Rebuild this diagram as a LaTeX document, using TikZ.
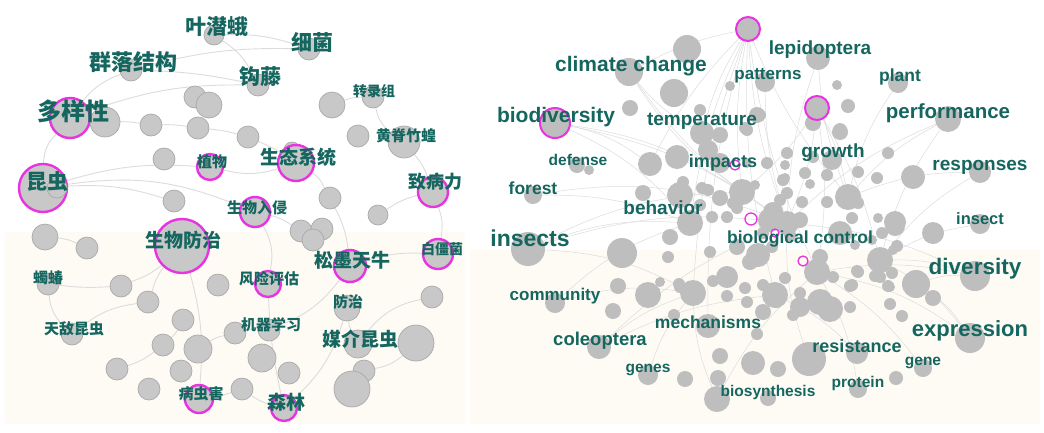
\documentclass[tikz,border=0pt]{standalone}
\usepackage{fontspec}
\setmainfont{Liberation Sans}
\newfontfamily\cjk{Noto Sans CJK SC}
\usetikzlibrary{backgrounds}
\definecolor{ng}{HTML}{C8C8C8}
\definecolor{nb}{HTML}{A9A9A9}
\definecolor{rg}{HTML}{BEBEBE}
\definecolor{mag}{HTML}{E833E0}
\definecolor{tl}{HTML}{14665F}
\definecolor{eg}{HTML}{DCDCDC}
\definecolor{cr}{HTML}{FEFBF5}
\tikzset{
 gn/.style={circle,fill=ng,draw=nb,line width=0.7pt,inner sep=0pt},
 mg/.style={circle,fill=ng,draw=mag,line width=2.4pt,inner sep=0pt},
 rn/.style={circle,fill=rg,inner sep=0pt},
 rm/.style={circle,fill=rg,draw=mag,line width=2pt,inner sep=0pt},
 rr/.style={circle,draw=mag,line width=1.3pt,inner sep=0pt},
 cl/.style={text=tl,inner sep=0pt,font=\cjk\bfseries\fontsize{#1}{#1}\selectfont},
 el/.style={text=tl,inner sep=0pt,font=\bfseries\fontsize{#1}{#1}\selectfont},
 ed/.style={draw=eg,line width=0.9pt},
 er/.style={draw=eg,line width=0.5pt},
}
\begin{document}
\begin{tikzpicture}[x=1pt,y=-1pt]
\useasboundingbox (0,0) rectangle (1044,432);
% ---------------- LEFT PANEL ----------------
\foreach \n/\x/\y/\r in {d1/195/97/11,d2/209/105/13,d4/151/125/11,d5/198/128/11,d6/248/137/11,
 d7/332/105/13,d8/358/136/11,d9/164/159/11,d10/292/150/8,d12/174/201/11,d13/330/198/11,d14/378/215/10,
 d15/45/237/13,d16/87/248/11,d17/301/231/11,d18/322/229/11,d19/313/240/11,d20/121/286/11,d21/148/302/11,
 d22/218/285/11,d23/432/297/11,d24/183/320/11,d25/235/333/11,d26/163/345/11,d27/198/349/14,d28/262/358/14,
 d29/416/343/18,d30/117/369/11,d31/181/371/11,d32/289/373/11,d33/364/371/11,d34/352/389/18,d35/149/389/11,d36/242/389/11}
 \node[gn,minimum size=2*\r] (\n) at (\x,\y) {};
% keyword circles (left)
\node[gn,minimum size=20] (yqe) at (214,35) {};
\node[gn,minimum size=22] (xj) at (309,49) {};
\node[gn,minimum size=22] (qljg) at (131,70) {};
\node[gn,minimum size=22] (gt) at (258,85) {};
\node[mg,minimum size=40] (dyx) at (70,118) {};
\node[gn,minimum size=30] (d3) at (105,122) {};
\node[gn,minimum size=22] (zlz) at (373,97) {};
\node[gn,minimum size=32] (hjzh) at (404,142) {};
\node[mg,minimum size=36] (stxt) at (296,163) {};
\node[mg,minimum size=26] (zw) at (210,167) {};
\node[mg,minimum size=48] (kc) at (43,188) {};
\node[gn,minimum size=20] (d11) at (57,188) {};
\node[mg,minimum size=30] (zbl) at (433,192) {};
\node[mg,minimum size=30] (swrq) at (255,212) {};
\node[mg,minimum size=54] (swfz) at (182,246) {};
\node[mg,minimum size=32] (smtn) at (350,266) {};
\node[mg,minimum size=30] (bjj) at (438,254) {};
\node[gn,minimum size=22] (zc) at (48,284) {};
\node[mg,minimum size=26] (fxpg) at (268,284) {};
\node[gn,minimum size=26] (fz) at (347,308) {};
\node[gn,minimum size=22] (dd) at (72,334) {};
\node[gn,minimum size=22] (jq) at (269,330) {};
\node[gn,minimum size=28] (mj) at (358,344) {};
\node[mg,minimum size=28] (bch) at (199,399) {};
\node[mg,minimum size=26] (sl) at (284,408) {};
% labels (left)
\node[cl=21] (yqeT) at (217,27) {叶潜蛾};
\node[cl=21] (xjT) at (312,42) {细菌};
\node[cl=22] (qljgT) at (133,62) {群落结构};
\node[cl=21] (gtT) at (260,77) {钩藤};
\node[cl=24] (dyxT) at (73,111) {多样性};
\node[cl=14] (zlzT) at (374,91) {转录组};
\node[cl=15] (hjzhT) at (406,136) {黄脊竹蝗};
\node[cl=19] (stxtT) at (298,157) {生态系统};
\node[cl=15] (zwT) at (212,162) {植物};
\node[cl=21] (kcT) at (47,182) {昆虫};
\node[cl=18] (zblT) at (435,182) {致病力};
\node[cl=15] (swrqT) at (257,208) {生物入侵};
\node[cl=19] (swfzT) at (183,240) {生物防治};
\node[cl=19] (smtnT) at (352,260) {松墨天牛};
\node[cl=14] (bjjT) at (442,249) {白僵菌};
\node[cl=15] (zcT) at (48,278) {蠋蝽};
\node[cl=15] (fxpgT) at (269,279) {风险评估};
\node[cl=15] (fzT) at (348,302) {防治};
\node[cl=15] (ddT) at (74,329) {天敌昆虫};
\node[cl=15] (jqT) at (271,325) {机器学习};
\node[cl=19] (mjT) at (360,339) {媒介昆虫};
\node[cl=15] (bchT) at (201,394) {病虫害};
\node[cl=19] (slT) at (286,402) {森林};
% ---------------- RIGHT PANEL ----------------
\foreach \x/\y/\r [count=\i] in {687/49/14,674/93/14,630/108/8,577/165/8,589/170/5,677/157/12,720/135/8,708/150/10,720/163/10,745/128/6,
 683/182/6,643/193/8,680/195/13,702/188/6,720/198/8,755/185/5,712/217/6,727/217/6,737/208/6,670/237/8,
 668/257/6,710/252/6,737/247/8,758/255/12,750/262/8,770/220/12,780/200/6,773/212/10,802/202/6,800/220/8,
 827/202/6,858/203/6,852/218/6,878/218/5,895/222/11,913/177/12,888/153/6,858/172/6,877/178/6,827/175/6,
 805/173/6,810/184/5,787/153/6,785/165/5,785/178/5,767/163/6,813/123/8,840/132/8,747/163/5,727/277/11,
 713/281/6,680/287/6,648/295/13,660/282/5,745/288/6,763/285/6,785/278/6,800/293/6,820/257/8,833/277/6,
 852/285/6,858/272/6,880/277/6,890/287/5,893/250/5,872/240/5,855/245/5,840/233/12,820/302/13,800/307/10,
 850/307/6,830/309/13,777/302/6,747/302/6,763/312/8,793/315/6,772/247/6,790/235/6,763/233/6,700/110/6,
 757/115/8,747/130/6,708/190/6,733/203/6,700/205/6,837/85/5,848/106/7,840/130/7,812/122/6,813/157/6,
 832/160/10,760/115/6,783/180/6,787/193/6,730/86/5,618/286/8,679/284/6,613/311/8,674/315/6,720/356/8,
 718/378/8,685/379/8,727/296/6,757/334/6,753/363/12,778/369/8,768/398/8,896/378/7,890/304/6,902/316/6,
 933/298/8,888/286/6,892/273/6,875/276/6,857/271/6,897/246/6,895/226/10,882/233/6,850/286/6,933/233/11}
 \node[rn,minimum size=2*\r] (r\i) at (\x,\y) {};
% hubs
\node[rn,minimum size=24] (hA) at (787,223) {};
\node[rn,minimum size=26] (hB) at (742,192) {};
\node[rn,minimum size=26] (hC) at (817,272) {};
\node[rn,minimum size=26] (hD) at (690,223) {};
\node[rn,minimum size=26] (hE) at (693,293) {};
\node[rn,minimum size=26] (hF) at (848,197) {};
\node[rn,minimum size=26] (hG) at (880,260) {};
\node[rn,minimum size=26] (hH) at (775,295) {};
\node[rn,minimum size=24] (hI) at (702,133) {};
\node[rn,minimum size=28] (hJ) at (916,284) {};
\node[rn,minimum size=34] (hK) at (809,359) {};
\node[rn,minimum size=30] (hL) at (622,253) {};
\node[rn,minimum size=24] (hM) at (650,164) {};
% keyword circles (right)
\node[rm,minimum size=24] (rtop) at (748,29) {};
\node[rn,minimum size=28] (rcc) at (629,72) {};
\node[rm,minimum size=30] (rbio) at (555,123) {};
\node[rn,minimum size=18] (rfor) at (533,195) {};
\node[rn,minimum size=20] (rpat) at (765,82) {};
\node[rn,minimum size=24] (rlep) at (818,58) {};
\node[rn,minimum size=20] (rpla) at (898,83) {};
\node[rm,minimum size=24] (rmg) at (817,108) {};
\node[rn,minimum size=26] (rper) at (948,119) {};
\node[rn,minimum size=22] (rres) at (980,172) {};
\node[rn,minimum size=20] (rins) at (980,224) {};
\node[rn,minimum size=34] (rinsects) at (528,249) {};
\node[rn,minimum size=30] (rdiv) at (975,276) {};
\node[rn,minimum size=20] (rcom) at (555,303) {};
\node[rn,minimum size=24] (rmec) at (708,326) {};
\node[rn,minimum size=24] (rcol) at (599,347) {};
\node[rn,minimum size=30] (rexp) at (970,338) {};
\node[rn,minimum size=22] (rresis) at (857,353) {};
\node[rn,minimum size=18] (rgene) at (923,368) {};
\node[rn,minimum size=20] (rgenes) at (648,375) {};
\node[rn,minimum size=18] (rpro) at (858,389) {};
\node[rn,minimum size=26] (rbios) at (717,399) {};
\node[rr,minimum size=10] (rm1) at (735,165) {};
\node[rr,minimum size=12] (rm2) at (751,219) {};
\node[rr,minimum size=8] (rm3) at (775,233) {};
\node[rr,minimum size=10] (rm4) at (803,261) {};
% labels (right)
\node[el=21] (lcc) at (631,66) {climate change};
\node[el=21] (lbio) at (556,117) {biodiversity};
\node[el=19] (ltem) at (702,121) {temperature};
\node[el=15.5] (ldef) at (578,160) {defense};
\node[el=17.5] (lfor) at (533,188) {forest};
\node[el=18] (limp) at (723,163) {impacts};
\node[el=19] (lbeh) at (663,208) {behavior};
\node[el=17] (lpat) at (768,76) {patterns};
\node[el=19] (llep) at (820,50) {lepidoptera};
\node[el=17.5] (lpla) at (900,77) {plant};
\node[el=20.5] (lper) at (948,113) {performance};
\node[el=19] (lgro) at (833,153) {growth};
\node[el=19] (lres) at (980,167) {responses};
\node[el=16.5] (lins) at (980,219) {insect};
\node[el=17.5] (lbc) at (800,239) {biological control};
\node[el=23] (linsects) at (530,238) {insects};
\node[el=22.5] (ldiv) at (975,269) {diversity};
\node[el=17] (lcom) at (555,296) {community};
\node[el=17.5] (lmec) at (708,322) {mechanisms};
\node[el=18.5] (lcol) at (600,341) {coleoptera};
\node[el=22] (lexp) at (970,331) {expression};
\node[el=18] (lresis) at (857,346) {resistance};
\node[el=15.5] (lgene) at (923,363) {gene};
\node[el=15.5] (lgenes) at (648,370) {genes};
\node[el=15.5] (lpro) at (858,383) {protein};
\node[el=15.5] (lbios) at (768,392) {biosynthesis};
% ---------------- BACKGROUND + EDGES ----------------
\begin{pgfonlayer}{background}
\fill[white] (0,0) rectangle (1044,432);
\fill[cr] (5,232) rectangle (465,424);
\fill[cr] (470,250) rectangle (1040,424);
% left edges
\draw[ed] (yqe) to[bend left=10] (xj);
\draw[ed] (qljg) to[bend left=8] (xj);
\draw[ed] (qljg) to[bend left=5] (gt);
\draw[ed] (yqe) to[bend left=15] (gt);
\draw[ed] (dyx) to[bend left=15] (qljg);
\draw[ed] (dyx) to[bend left=10] (gt);
\draw[ed] (d3) to[bend left=5] (d4);
\draw[ed] (d4) to[bend left=5] (d5);
\draw[ed] (d5) to[bend left=5] (d6);
\draw[ed] (d6) to[bend left=5] (stxt);
\draw[ed] (kc) to[bend left=20] (dyx);
\draw[ed] (kc) to[bend left=10] (zw);
\draw[ed] (zw) to[bend right=15] (stxt);
\draw[ed] (kc) to[bend left=10] (d12);
\draw[ed] (kc) to[bend left=15] (swrq);
\draw[ed] (stxt) to[bend left=15] (d13);
\draw[ed] (d13) to[bend left=10] (smtn);
\draw[ed] (zlz) to[bend right=10] (d7);
\draw[ed] (zlz) to[bend right=20] (hjzh);
\draw[ed] (hjzh) to[bend left=10] (zbl);
\draw[ed] (zbl) to[bend left=15] (bjj);
\draw[ed] (d14) to[bend left=10] (zbl);
\draw[ed] (smtn) to[bend left=10] (bjj);
\draw[ed] (swfz) to[bend left=10] (d20);
\draw[ed] (d20) to[bend left=5] (zc);
\draw[ed] (d15) to[bend left=10] (d16);
\draw[ed] (zc) to[bend right=20] (dd);
\draw[ed] (dd) to[bend left=15] (d21);
\draw[ed] (d21) to[bend left=10] (swfz);
\draw[ed] (swfz) to[bend left=10] (bch);
\draw[ed] (swrq) to[bend left=20] (fxpg);
\draw[ed] (fxpg) to[bend right=5] (sl);
\draw[ed] (smtn) to[bend left=15] (jq);
\draw[ed] (fz) to[bend right=10] (mj);
\draw[ed] (mj) to[bend left=20] (d23);
\draw[ed] (d33) to[bend right=15] (d29);
\draw[ed] (sl) to[bend left=10] (d36);
\draw[ed] (d36) to[bend left=5] (bch);
\draw[ed] (d26) to[bend left=10] (d30);
\draw[ed] (d26) to[bend right=10] (d24);
\draw[ed] (jq) to[bend right=10] (d25);
\draw[ed] (d25) to[bend right=10] (d27);
\draw[ed] (fz) to[bend left=15] (sl);
\draw[ed] (swrq) to[bend left=10] (d17);
% right edges
\foreach \t in {hI,hB,hA,hD,hC,hF,hE,hH,rmec,hM,rcc}
 \draw[er] (rtop) to[bend right=8] (\t);
\foreach \t in {hF,hA,hG,hC,hB}
 \draw[er] (rmg) to[bend left=8] (\t);
\foreach \t in {hD,hB,hA,hM}
 \draw[er] (rbio) to[bend left=12] (\t);
\foreach \t in {hB,hA,hI}
 \draw[er] (rcc) to[bend right=10] (\t);
\foreach \t in {hD,hE,hA,hB}
 \draw[er] (rinsects) to[bend left=12] (\t);
\foreach \t in {hE,hD}
 \draw[er] (rcom) to[bend left=12] (\t);
\foreach \t in {hE,hH,hA}
 \draw[er] (rcol) to[bend left=10] (\t);
\foreach \t in {hG,hC,hA,hJ}
 \draw[er] (rdiv) to[bend right=10] (\t);
\foreach \t in {hG,hC,hJ}
 \draw[er] (rexp) to[bend right=12] (\t);
\foreach \t in {hF,hG,hA}
 \draw[er] (rper) to[bend right=10] (\t);
\foreach \t in {hG,hF}
 \draw[er] (rres) to[bend right=10] (\t);
\foreach \t in {hF,hA}
 \draw[er] (rlep) to[bend right=8] (\t);
\draw[er] (rpla) to[bend right=10] (hF);
\draw[er] (rins) to[bend right=10] (hG);
\draw[er] (rfor) to[bend left=10] (hD);
\draw[er] (rfor) to[bend left=15] (hA);
\draw[er] (rgenes) to[bend left=10] (hE);
\draw[er] (rpro) to[bend right=10] (hC);
\draw[er] (rgene) to[bend right=10] (hC);
\draw[er] (rresis) to[bend right=10] (hH);
\draw[er] (rbios) to[bend left=10] (hE);
\draw[er] (rbios) to[bend left=10] (hC);
\draw[er] (hK) to[bend left=10] (hA);
\draw[er] (rpat) to[bend right=8] (hA);
\end{pgfonlayer}
\end{tikzpicture}
\end{document}
